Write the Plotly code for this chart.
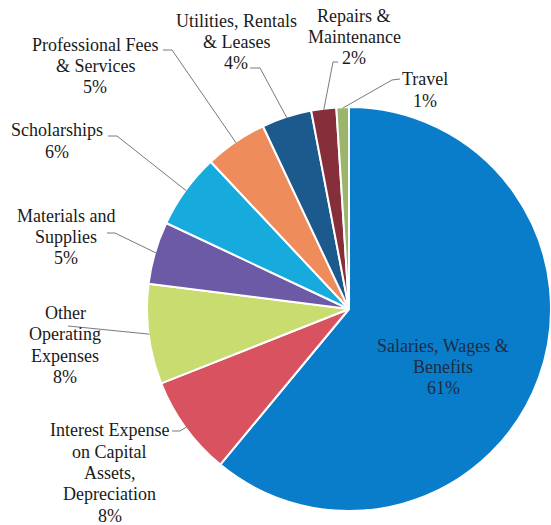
import math
import plotly.graph_objects as go

# Expense categories (clockwise from 12 o'clock) and their shares in percent
categories = [
    "Salaries, Wages &<br>Benefits",
    "Interest Expense<br>on Capital<br>Assets,<br>Depreciation",
    "Other<br>Operating<br>Expenses",
    "Materials and<br>Supplies",
    "Scholarships",
    "Professional Fees<br>& Services",
    "Utilities, Rentals<br>& Leases",
    "Repairs &<br>Maintenance",
    "Travel",
]
shares = [61, 8, 8, 5, 6, 5, 4, 2, 1]
colors = ["#0a7dca", "#d8525f", "#c9dc70", "#6c5aa6", "#17abdd",
          "#ef8c5c", "#1c5a8e", "#862f3b", "#9bb56a"]

W, H = 551, 525
# pie placement in pixels
CX, CY, R = 349, 309, 202

def px(x, y):
    return x / W, 1 - y / H

# label centre, leader start and elbow (pixels) per category; None = label inside
label_pos = [
    (443, 367), (110, 473), (65, 345), (66, 237), (57, 141),
    (95, 66), (236, 42), (354, 37), (425, 90),
]
leader_pts = [
    None,
    [(172, 431), (180, 431)],
    [(68, 326)],
    [(107, 233), (115, 233)],
    [(108, 136), (117, 136)],
    [(163, 50), (172, 50)],
    [(250, 68), (260, 68)],
    [(338, 62), (333, 62)],
    [(400, 79), (392, 80)],
]

SERIF = "Liberation Serif"
LINE_H = 21.3  # spacing between label lines, pixels

fig = go.Figure(go.Pie(
    labels=[c.replace("<br>", " ") for c in categories],
    values=shares,
    sort=False,
    direction="clockwise",
    rotation=0,
    marker=dict(colors=colors, line=dict(color="white", width=2)),
    textinfo="none",
    showlegend=False,
    domain=dict(x=[(CX - R) / W, min(1.0, (CX + R) / W)],
                y=[1 - (CY + R) / H, 1 - (CY - R) / H]),
))

total = sum(shares)
annotations = []
shapes = []
cum = 0.0
for i, (cat, v) in enumerate(zip(categories, shares)):
    mid = (cum + v / 2) / total * 2 * math.pi
    cum += v
    lx, ly = label_pos[i]
    ax, _ = px(lx, ly)
    inside = leader_pts[i] is None
    # one annotation per text line for tight, even line spacing
    lines = cat.split("<br>") + [f"{v}%"]
    n = len(lines)
    for k, line in enumerate(lines):
        yy = ly + (k - (n - 1) / 2) * LINE_H
        annotations.append(dict(
            x=ax, y=px(lx, yy)[1], xref="paper", yref="paper",
            text=line, showarrow=False,
            xanchor="center", yanchor="middle",
            font=dict(family=SERIF, size=18,
                      color="#1d2c44" if inside else "#1a1a1a"),
        ))
    if not inside:
        ex = CX + (R - 1) * math.sin(mid)
        ey = CY - (R - 1) * math.cos(mid)
        pts = leader_pts[i] + [(ex, ey)]
        path = "M " + " L ".join(f"{px(x, y)[0]:.5f},{px(x, y)[1]:.5f}" for x, y in pts)
        shapes.append(dict(type="path", path=path, xref="paper", yref="paper",
                           line=dict(color="#7a7a7a", width=1)))

fig.update_layout(
    width=W, height=H,
    margin=dict(l=0, r=0, t=0, b=0),
    paper_bgcolor="white", plot_bgcolor="white",
    font=dict(family=SERIF),
    annotations=annotations, shapes=shapes,
)

fig.write_html("out.html")
